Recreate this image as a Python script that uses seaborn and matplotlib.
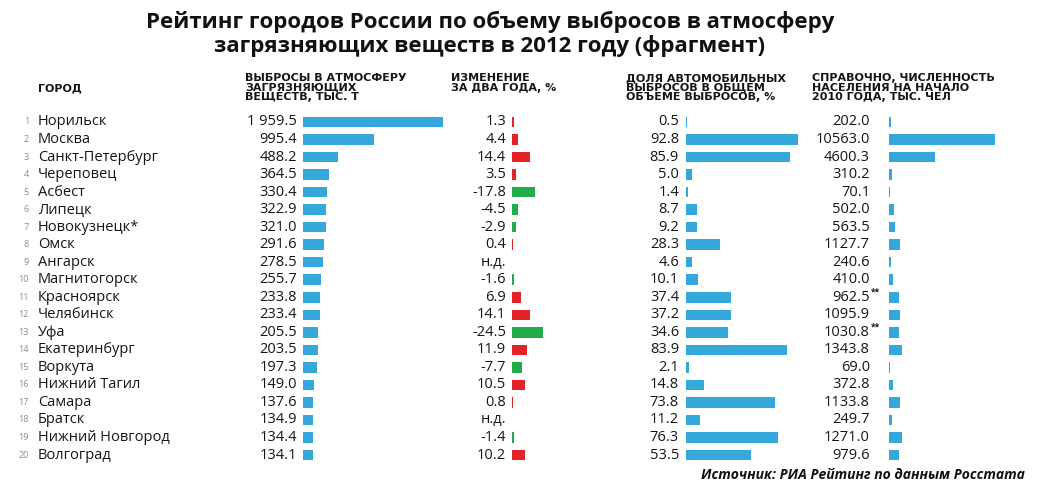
import numpy as np
import pandas as pd
import matplotlib.pyplot as plt
import seaborn as sns

# Данные
ranks = list(range(1, 21))
cities = ["Норильск", "Москва", "Санкт-Петербург", "Череповец", "Асбест", "Липецк",
          "Новокузнецк*", "Омск", "Ангарск", "Магнитогорск", "Красноярск", "Челябинск",
          "Уфа", "Екатеринбург", "Воркута", "Нижний Тагил", "Самара", "Братск",
          "Нижний Новгород", "Волгоград"]
emissions = [1959.5, 995.4, 488.2, 364.5, 330.4, 322.9, 321.0, 291.6, 278.5, 255.7,
             233.8, 233.4, 205.5, 203.5, 197.3, 149.0, 137.6, 134.9, 134.4, 134.1]
emission_labels = ["1 959.5", "995.4", "488.2", "364.5", "330.4", "322.9", "321.0", "291.6",
                   "278.5", "255.7", "233.8", "233.4", "205.5", "203.5", "197.3", "149.0",
                   "137.6", "134.9", "134.4", "134.1"]
change = [1.3, 4.4, 14.4, 3.5, -17.8, -4.5, -2.9, 0.4, None, -1.6,
          6.9, 14.1, -24.5, 11.9, -7.7, 10.5, 0.8, None, -1.4, 10.2]
auto_share = [0.5, 92.8, 85.9, 5.0, 1.4, 8.7, 9.2, 28.3, 4.6, 10.1,
              37.4, 37.2, 34.6, 83.9, 2.1, 14.8, 73.8, 11.2, 76.3, 53.5]
population = [202.0, 10563.0, 4600.3, 310.2, 70.1, 502.0, 563.5, 1127.7, 240.6, 410.0,
              962.5, 1095.9, 1030.8, 1343.8, 69.0, 372.8, 1133.8, 249.7, 1271.0, 979.6]
population_notes = ["", "", "", "", "", "", "", "", "", "", "**", "", "**", "", "", "", "", "", "", ""]

headers = ["ГОРОД",
           "ВЫБРОСЫ В АТМОСФЕРУ\nЗАГРЯЗНЯЮЩИХ\nВЕЩЕСТВ, ТЫС. Т",
           "ИЗМЕНЕНИЕ\nЗА ДВА ГОДА, %",
           "ДОЛЯ АВТОМОБИЛЬНЫХ\nВЫБРОСОВ В ОБЩЕМ\nОБЪЕМЕ ВЫБРОСОВ, %",
           "СПРАВОЧНО, ЧИСЛЕННОСТЬ\nНАСЕЛЕНИЯ НА НАЧАЛО\n2010 ГОДА, ТЫС. ЧЕЛ"]

df = pd.DataFrame({"city": cities, "emissions": emissions,
                   "change": [np.nan if v is None else v for v in change],
                   "auto": auto_share, "pop": population})
df["change_abs"] = df["change"].abs()
df["sign"] = np.where(df["change"] < 0, "neg", "pos")

sns.set_style("white")
plt.rcParams["font.family"] = ["Open Sans", "DejaVu Sans"]

W, H = 1039, 491
fig = plt.figure(figsize=(W / 100, H / 100), dpi=100)

BLUE = "#34a8db"
RED = "#e3232a"
GREEN = "#22ad4b"
TXT = "#161616"
top_px, bot_px = 113.2, 463.8


def make_ax(x0, width):
    ax = fig.add_axes([x0 / W, 1 - bot_px / H, width / W, (bot_px - top_px) / H])
    return ax


def finish(ax, xmax):
    ax.set_xlim(0, xmax)
    ax.set_ylim(len(cities) - 0.5, -0.5)
    ax.axis("off")


# 1. Выбросы
ax1 = make_ax(303, 140)
sns.barplot(data=df, x="emissions", y="city", order=cities, color=BLUE,
            width=0.6, saturation=1, linewidth=0, ax=ax1)
finish(ax1, max(emissions))
for i, lab in enumerate(emission_labels):
    ax1.annotate(lab, xy=(0, i), xytext=(-6, 0), textcoords="offset pixels",
                 ha="right", va="center", fontsize=10.5, color=TXT)
    ax1.annotate(cities[i], xy=(0, i), xytext=(-265, 0), textcoords="offset pixels",
                 ha="left", va="center", fontsize=10.5, color=TXT)
    ax1.annotate(str(ranks[i]), xy=(0, i), xytext=(-274, 0), textcoords="offset pixels",
                 ha="right", va="center", fontsize=6.5, color="#8a8a8a")

# 2. Изменение за два года
ax2 = make_ax(512, 31)
sns.barplot(data=df, x="change_abs", y="city", order=cities, hue="sign",
            palette={"pos": RED, "neg": GREEN}, dodge=False, legend=False,
            width=0.6, saturation=1, linewidth=0, ax=ax2)
finish(ax2, 24.5)
for i, v in enumerate(change):
    lab = "н.д." if v is None else f"{v:.1f}"
    ax2.annotate(lab, xy=(0, i), xytext=(-6, 0), textcoords="offset pixels",
                 ha="right", va="center", fontsize=10.5, color=TXT)

# 3. Доля автомобильных выбросов
ax3 = make_ax(686, 112)
sns.barplot(data=df, x="auto", y="city", order=cities, color=BLUE,
            width=0.6, saturation=1, linewidth=0, ax=ax3)
finish(ax3, max(auto_share))
for i, v in enumerate(auto_share):
    ax3.annotate(f"{v:.1f}", xy=(0, i), xytext=(-7, 0), textcoords="offset pixels",
                 ha="right", va="center", fontsize=10.5, color=TXT)

# 4. Численность населения
ax4 = make_ax(889, 106)
sns.barplot(data=df, x="pop", y="city", order=cities, color=BLUE,
            width=0.6, saturation=1, linewidth=0, ax=ax4)
finish(ax4, max(population))
for i, v in enumerate(population):
    ax4.annotate(f"{v:.1f}", xy=(0, i), xytext=(-19, 0), textcoords="offset pixels",
                 ha="right", va="center", fontsize=10.5, color=TXT)
    if population_notes[i]:
        ax4.annotate(population_notes[i], xy=(0, i), xytext=(-18, 1), textcoords="offset pixels",
                     ha="left", va="bottom", fontsize=6, color=TXT, fontweight="bold")

# Заголовки колонок
header_x = [38, 245, 451, 626, 812]
header_y = [88, 73, 73, 73, 73]
for hx, hy, h in zip(header_x, header_y, headers):
    fig.text(hx / W, 1 - hy / H, h, ha="left", va="center" if hx == 38 else "top",
             fontsize=8, fontweight="bold", family="DejaVu Sans", color=TXT,
             linespacing=0.95)

# Заголовок и источник
fig.text(490 / W, 1 - 34 / H,
         "Рейтинг городов России по объему выбросов в атмосферу\n"
         "загрязняющих веществ в 2012 году (фрагмент)",
         ha="center", va="center", fontsize=16, fontweight="bold", color="#111111",
         linespacing=1.15)
fig.text(1025 / W, 1 - 475 / H, "Источник: РИА Рейтинг по данным Росстата",
         ha="right", va="center", fontsize=10, fontweight="bold", style="italic", color="#111111")

plt.savefig("out.png", dpi=100, facecolor="white")
plt.close()
